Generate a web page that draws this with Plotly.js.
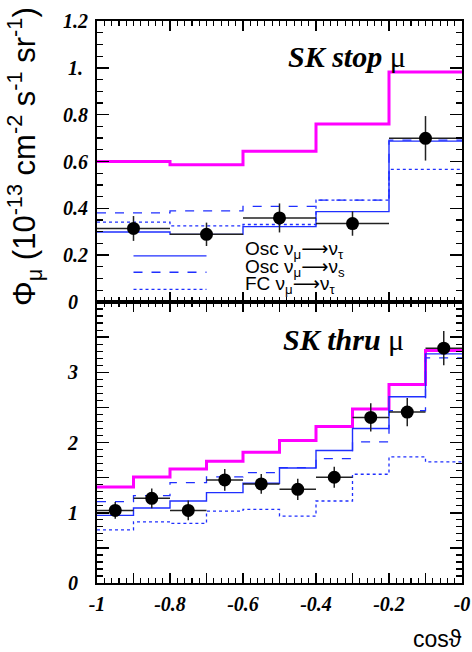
<!DOCTYPE html>
<html>
<head>
<meta charset="utf-8">
<script src="https://cdn.plot.ly/plotly-3.0.1.min.js"></script>
<style>html,body{margin:0;padding:0;background:#fff;}#plot{width:472px;height:652px;}</style>
</head>
<body>
<div id="plot"></div>
<script>
// ---------- Data: upward stopping muons (top panel) ----------
var stopEdges = [-1, -0.8, -0.6, -0.4, -0.2, 0];
var stopNoOsc = [0.60, 0.586, 0.644, 0.76, 0.982];
var stopOscTau = [0.299, 0.289, 0.322, 0.386, 0.687];
var stopOscSterile = [0.381, 0.389, 0.408, 0.435, 0.691];
var stopFC = [0.341, 0.325, 0.331, 0.435, 0.566];
var stopData = [0.314, 0.289, 0.359, 0.335, 0.699];
var stopErr = [0.053, 0.05, 0.062, 0.052, 0.095];

// ---------- Data: upward through-going muons (bottom panel) ----------
var thruEdges = [-1, -0.9, -0.8, -0.7, -0.6, -0.5, -0.4, -0.3, -0.2, -0.1, 0];
var thruNoOsc = [1.367, 1.51, 1.624, 1.733, 1.862, 2.029, 2.229, 2.476, 2.824, 3.31];
var thruOscTau = [0.962, 1.067, 1.167, 1.286, 1.419, 1.638, 1.886, 2.20, 2.652, 3.262];
var thruOscSterile = [1.157, 1.243, 1.429, 1.51, 1.571, 1.643, 1.771, 2.01, 2.452, 3.205];
var thruFC = [0.757, 0.871, 0.848, 1.024, 1.048, 0.952, 1.167, 1.548, 1.795, 1.724];
var thruData = [1.033, 1.205, 1.033, 1.467, 1.41, 1.333, 1.505, 2.357, 2.433, 3.343];
var thruErr = [0.12, 0.14, 0.14, 0.155, 0.14, 0.15, 0.15, 0.2, 0.2, 0.245];

// ---------- Tick labels ----------
var xTickVals = [-1, -0.9, -0.8, -0.7, -0.6, -0.5, -0.4, -0.3, -0.2, -0.1, 0];
var xTickText = ['-1', '', '-0.8', '', '-0.6', '', '-0.4', '', '-0.2', '', '-0'];
var yTopTickVals = [0, 0.2, 0.4, 0.6, 0.8, 1.0, 1.2];
var yTopTickText = ['0\u00a0\u00a0', '0.2', '0.4', '0.6', '0.8', '1.\u00a0', '1.2'];
var yBotTickVals = [0, 0.5, 1, 1.5, 2, 2.5, 3, 3.5];
var yBotTickText = ['0\u00a0\u00a0', '', '1\u00a0\u00a0', '', '2\u00a0\u00a0', '', '3\u00a0\u00a0', ''];

var legendLabels = [
  'Osc \u03bd<sub>\u03bc</sub>\u27f6\u03bd<sub>\u03c4</sub>',
  'Osc \u03bd<sub>\u03bc</sub>\u27f6\u03bd<sub>s</sub>',
  'FC \u03bd<sub>\u03bc</sub>\u27f6\u03bd<sub>\u03c4</sub>'
];

// ---------- helpers ----------
function stepY(vals) { return vals.concat([vals[vals.length - 1]]); }
function centers(edges) { var c = []; for (var i = 0; i < edges.length - 1; i++) c.push((edges[i] + edges[i + 1]) / 2); return c; }
function halfW(edges) { var c = []; for (var i = 0; i < edges.length - 1; i++) c.push((edges[i + 1] - edges[i]) / 2); return c; }

var BLUE = '#1f2fff';
var MAG = '#ff00ff';

function histTraces(edges, noOsc, tau, ster, fc, data, err, xa, ya) {
  return [
    {x: edges, y: stepY(noOsc), xaxis: xa, yaxis: ya, mode: 'lines', line: {shape: 'hv', color: MAG, width: 3}},
    {x: edges, y: stepY(fc), xaxis: xa, yaxis: ya, mode: 'lines', line: {shape: 'hv', color: BLUE, width: 1.3, dash: 'dot'}},
    {x: edges, y: stepY(ster), xaxis: xa, yaxis: ya, mode: 'lines', line: {shape: 'hv', color: BLUE, width: 1.3, dash: 'dash'}},
    {x: edges, y: stepY(tau), xaxis: xa, yaxis: ya, mode: 'lines', line: {shape: 'hv', color: BLUE, width: 1.4}},
    {x: centers(edges), y: data, xaxis: xa, yaxis: ya, mode: 'markers',
      marker: {color: '#000', size: 13},
      error_x: {type: 'data', array: halfW(edges), color: '#222', thickness: 1.5, width: 0},
      error_y: {type: 'data', array: err, color: '#222', thickness: 1.5, width: 0}}
  ];
}

var traces = []
  .concat(histTraces(stopEdges, stopNoOsc, stopOscTau, stopOscSterile, stopFC, stopData, stopErr, 'x2', 'y2'))
  .concat(histTraces(thruEdges, thruNoOsc, thruOscTau, thruOscSterile, thruFC, thruData, thruErr, 'x', 'y'));

var tickFont = {family: 'Liberation Serif, Times New Roman, serif', size: 20, color: '#000', weight: 'bold', style: 'italic'};

function xAxis(anchor, showLabels) {
  return {
    range: [-1, 0], anchor: anchor, showgrid: false, zeroline: false,
    showline: true, linecolor: '#000', linewidth: 2, mirror: 'ticks',
    ticks: 'inside', ticklen: 10, tickwidth: 1.5, tickcolor: '#000',
    tickmode: 'array', tickvals: xTickVals, ticktext: xTickText,
    showticklabels: showLabels, tickfont: tickFont, ticklabelstandoff: 2,
    minor: {dtick: 0.02, tick0: 0, ticks: 'inside', ticklen: 5, tickwidth: 1.2, tickcolor: '#000', showgrid: false}
  };
}
function yAxis(domain, range, vals, text, minorDt, anchor) {
  return {
    domain: domain, range: range, anchor: anchor, showgrid: false, zeroline: false,
    showline: true, linecolor: '#000', linewidth: 2, mirror: 'ticks',
    ticks: 'inside', ticklen: 12, tickwidth: 1.5, tickcolor: '#000',
    tickmode: 'array', tickvals: vals, ticktext: text, tickfont: tickFont, ticklabelstandoff: 3,
    minor: {dtick: minorDt, tick0: 0, ticks: 'inside', ticklen: 6, tickwidth: 1.2, tickcolor: '#000', showgrid: false}
  };
}

var legendStyles = ['solid', 'dash', 'dot'];
var legendLineY = [0.197, 0.127, 0.054];
var legendTextY = [0.222, 0.147, 0.071];
var shapes = [];
var annotations = [];
for (var i = 0; i < 3; i++) {
  shapes.push({type: 'line', xref: 'x2', yref: 'y2', x0: -0.9, x1: -0.7, y0: legendLineY[i], y1: legendLineY[i],
    line: {color: BLUE, width: 1.3, dash: legendStyles[i]}});
  annotations.push({xref: 'x2', yref: 'y2', x: -0.6, y: legendTextY[i], xanchor: 'left', yanchor: 'middle', showarrow: false,
    text: legendLabels[i], font: {family: 'Liberation Sans, DejaVu Sans, sans-serif', size: 19, color: '#000'}});
}

annotations.push({xref: 'paper', yref: 'paper', x: 0.852, y: 0.937, xanchor: 'right', yanchor: 'middle', showarrow: false,
  text: 'SK stop <span style="font-style:normal;font-weight:normal">\u03bc</span>',
  font: {family: 'Liberation Serif, Times New Roman, serif', size: 30, color: '#000', weight: 'bold', style: 'italic'}});
annotations.push({xref: 'paper', yref: 'paper', x: 0.847, y: 0.434, xanchor: 'right', yanchor: 'middle', showarrow: false,
  text: 'SK thru <span style="font-style:normal;font-weight:normal">\u03bc</span>',
  font: {family: 'Liberation Serif, Times New Roman, serif', size: 30, color: '#000', weight: 'bold', style: 'italic'}});
annotations.push({xref: 'paper', yref: 'paper', x: -0.2, y: 0.758, xanchor: 'center', yanchor: 'middle', showarrow: false,
  textangle: -90,
  text: '\u03a6<sub>\u03bc</sub> (10<sup>-13</sup> cm<sup>-2</sup> s<sup>-1</sup> sr<sup>-1</sup>)',
  font: {family: 'Liberation Sans, DejaVu Sans, sans-serif', size: 31, color: '#000'}});
annotations.push({xref: 'paper', yref: 'paper', x: 1.005, y: -0.1, xanchor: 'right', yanchor: 'middle', showarrow: false,
  text: 'cos\u03d1',
  font: {family: 'Liberation Sans, DejaVu Sans, sans-serif', size: 23, color: '#000'}});

var layout = {
  width: 472, height: 652,
  margin: {l: 97, r: 10, t: 21, b: 69, pad: 0},
  paper_bgcolor: '#fff', plot_bgcolor: '#fff',
  showlegend: false,
  xaxis: xAxis('y', true),
  xaxis2: xAxis('y2', false),
  yaxis: yAxis([0, 0.5], [0, 4], yBotTickVals, yBotTickText, 0.1, 'x'),
  yaxis2: yAxis([0.5, 1], [0, 1.2], yTopTickVals, yTopTickText, 0.05, 'x2'),
  shapes: shapes,
  annotations: annotations
};

Plotly.newPlot('plot', traces, layout, {staticPlot: true, displayModeBar: false});
</script>
</body>
</html>
